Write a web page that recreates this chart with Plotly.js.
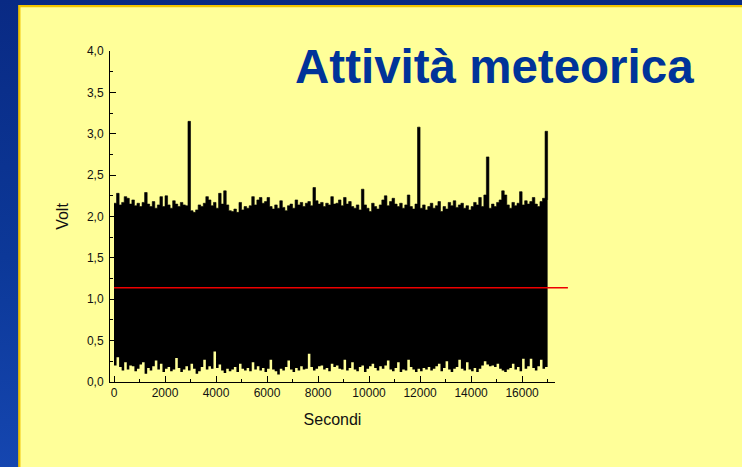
<!DOCTYPE html>
<html>
<head>
<meta charset="utf-8">
<script src="https://cdn.plot.ly/plotly-3.0.1.min.js"></script>
<style>
  html, body { margin: 0; padding: 0; }
  body { width: 742px; height: 467px; overflow: hidden;
         background: linear-gradient(180deg, #092a84 0%, #0c3898 55%, #1546b0 100%); }
  #chart { width: 742px; height: 467px; }
</style>
</head>
<body>
<div id="chart"></div>
<script>
// ---- data ----
const chartTitle = 'Attività meteorica';
const xTitle = 'Secondi';
const yTitle = 'Volt';
const sampleStep = 100;            // seconds between envelope samples
// upper envelope (max Volt within each 100 s window)
const upperVolt = [
  2.16, 2.28, 2.14, 2.17, 2.24, 2.22, 2.15, 2.20, 2.13, 2.16,
  2.12, 2.17, 2.29, 2.15, 2.12, 2.18, 2.10, 2.14, 2.24, 2.12,
  2.25, 2.14, 2.10, 2.19, 2.15, 2.12, 2.17, 2.14, 2.13, 3.15,
  2.07, 2.05, 2.08, 2.14, 2.12, 2.16, 2.24, 2.20, 2.13, 2.17,
  2.10, 2.28, 2.15, 2.31, 2.14, 2.07, 2.06, 2.09, 2.05, 2.17,
  2.08, 2.12, 2.10, 2.13, 2.24, 2.14, 2.20, 2.23, 2.16, 2.18,
  2.23, 2.12, 2.09, 2.14, 2.10, 2.19, 2.11, 2.07, 2.13, 2.15,
  2.10, 2.20, 2.14, 2.17, 2.12, 2.16, 2.18, 2.13, 2.35, 2.19,
  2.15, 2.17, 2.12, 2.16, 2.14, 2.24, 2.15, 2.16, 2.20, 2.13,
  2.23, 2.15, 2.18, 2.12, 2.10, 2.14, 2.08, 2.33, 2.14, 2.10,
  2.06, 2.16, 2.12, 2.09, 2.14, 2.20, 2.25, 2.13, 2.18, 2.22,
  2.15, 2.12, 2.16, 2.10, 2.14, 2.26, 2.12, 2.09, 2.15, 3.08,
  2.10, 2.14, 2.08, 2.12, 2.16, 2.10, 2.13, 2.18, 2.06, 2.12,
  2.09, 2.17, 2.13, 2.19, 2.11, 2.14, 2.16, 2.10, 2.13, 2.08,
  2.12, 2.17, 2.14, 2.23, 2.12, 2.26, 2.72, 2.10, 2.15, 2.12,
  2.17, 2.20, 2.31, 2.26, 2.14, 2.10, 2.17, 2.13, 2.16, 2.30,
  2.14, 2.19, 2.15, 2.18, 2.23, 2.15, 2.12, 2.18, 2.22, 3.03,
  2.20
];
// lower envelope (min Volt within each 100 s window)
const lowerVolt = [
  0.20, 0.30, 0.18, 0.14, 0.24, 0.15, 0.20, 0.19, 0.13, 0.16,
  0.21, 0.24, 0.10, 0.17, 0.14, 0.19, 0.26, 0.15, 0.22, 0.12,
  0.16, 0.18, 0.13, 0.15, 0.29, 0.17, 0.12, 0.15, 0.19, 0.14,
  0.22, 0.16, 0.10, 0.13, 0.18, 0.27, 0.15, 0.19, 0.16, 0.37,
  0.17, 0.21, 0.14, 0.11, 0.16, 0.13, 0.15, 0.18, 0.12, 0.22,
  0.16, 0.14, 0.17, 0.13, 0.24, 0.15, 0.19, 0.14, 0.17, 0.12,
  0.16, 0.27, 0.15, 0.13, 0.09, 0.16, 0.14, 0.18, 0.26, 0.15,
  0.12, 0.17, 0.14, 0.19, 0.15, 0.16, 0.34, 0.18, 0.14, 0.16,
  0.19, 0.20, 0.15, 0.17, 0.13, 0.22, 0.18, 0.20, 0.16, 0.15,
  0.27, 0.14, 0.17, 0.24, 0.15, 0.13, 0.18, 0.20, 0.12, 0.16,
  0.19, 0.22, 0.17, 0.14, 0.19, 0.16, 0.20, 0.26, 0.15, 0.13,
  0.17, 0.24, 0.12, 0.15, 0.14, 0.27, 0.18, 0.15, 0.12, 0.16,
  0.13, 0.17, 0.15, 0.18, 0.14, 0.16, 0.19, 0.22, 0.13, 0.17,
  0.25, 0.15, 0.12, 0.16, 0.18, 0.27, 0.16, 0.14, 0.24, 0.15,
  0.13, 0.17, 0.12, 0.16, 0.20, 0.25, 0.21, 0.19, 0.20, 0.18,
  0.22, 0.16, 0.14, 0.12, 0.15, 0.17, 0.22, 0.15, 0.18, 0.13,
  0.28, 0.16, 0.19, 0.28, 0.17, 0.14, 0.19, 0.27, 0.16, 0.18,
  0.20
];
const meanVolt = 1.14;             // red horizontal line (mean level)
const xTickLabels = ['0','2000','4000','6000','8000','10000','12000','14000','16000'];
const yTickLabels = ['0,0','0,5','1,0','1,5','2,0','2,5','3,0','3,5','4,0'];

// ---- build ----
const seconds = upperVolt.map((_, i) => i * sampleStep);
const xTickVals = xTickLabels.map(Number);
const yTickVals = yTickLabels.map(s => Number(s.replace(',', '.')));

const FONT = 'Liberation Sans, Arial, Helvetica, sans-serif';

const traces = [
  { x: seconds, y: lowerVolt, type: 'scatter', mode: 'lines',
    line: { shape: 'hv', width: 0, color: '#000' }, hoverinfo: 'skip', showlegend: false },
  { x: seconds, y: upperVolt, type: 'scatter', mode: 'lines', fill: 'tonexty',
    fillcolor: '#000000', line: { shape: 'hv', width: 0.6, color: '#000' },
    hoverinfo: 'skip', showlegend: false }
];

const layout = {
  width: 742, height: 467,
  margin: { l: 110, r: 187, t: 51, b: 85, pad: 0 },
  paper_bgcolor: 'rgba(0,0,0,0)',
  plot_bgcolor: 'rgba(0,0,0,0)',
  font: { family: FONT, color: '#111', size: 12 },
  showlegend: false,
  title: { text: chartTitle, x: 0.3976, xanchor: 'left', y: 0.857, yanchor: 'middle',
           font: { family: FONT, size: 47.5, color: '#003399', weight: 'bold' } },
  xaxis: {
    range: [-157, 17290], tickvals: xTickVals, ticktext: xTickLabels,
    ticks: 'inside', ticklen: 6, tickwidth: 1, tickcolor: '#000',
    minor: { ticks: 'inside', dtick: 1000, tick0: 0, ticklen: 3, tickwidth: 1, tickcolor: '#000' },
    showline: true, linecolor: '#000', linewidth: 1, showgrid: false, zeroline: false,
    tickfont: { family: FONT, size: 12, color: '#111' },
    title: { text: xTitle, standoff: 14, font: { family: FONT, size: 16, color: '#111' } }
  },
  yaxis: {
    range: [0, 4], tickvals: yTickVals, ticktext: yTickLabels,
    ticks: 'inside', ticklen: 6, tickwidth: 1, tickcolor: '#000',
    minor: { ticks: 'inside', dtick: 0.25, tick0: 0, ticklen: 3, tickwidth: 1, tickcolor: '#000' },
    showline: true, linecolor: '#000', linewidth: 1, showgrid: false, zeroline: false,
    tickfont: { family: FONT, size: 12, color: '#111' },
    ticklabelstandoff: 3,
    title: { text: yTitle, standoff: 14, font: { family: FONT, size: 16, color: '#111' } }
  },
  shapes: [
    // yellow slide panel with golden border
    { type: 'rect', xref: 'paper', yref: 'paper', x0: -0.2038, x1: 1.6, y0: -0.6, y1: 1.1353,
      layer: 'below', fillcolor: '#FFFF99', line: { color: '#F2C400', width: 2.3 } },
    // mean level line
    { type: 'line', xref: 'paper', yref: 'y', x0: 0.009, x1: 1.029, y0: meanVolt, y1: meanVolt,
      layer: 'above', line: { color: '#EE0000', width: 1.5 } }
  ]
};

Plotly.newPlot('chart', traces, layout, { displayModeBar: false, staticPlot: true });
</script>
</body>
</html>
